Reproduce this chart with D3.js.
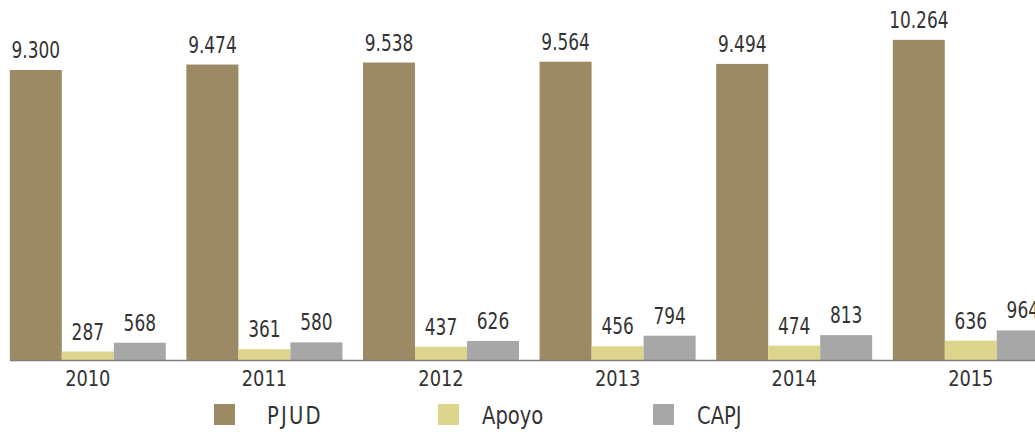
<!DOCTYPE html>
<html>
<head>
<meta charset="utf-8">
<script src="https://cdn.jsdelivr.net/npm/d3@7"></script>
<style>
  html, body { margin: 0; padding: 0; background: #fff; overflow: hidden; }
  svg { display: block; }
  text { font-family: "DejaVu Sans Condensed", "DejaVu Sans", sans-serif; fill: #333; }
</style>
</head>
<body>
<svg id="chart" width="1035" height="432"></svg>
<script>
const years = ["2010", "2011", "2012", "2013", "2014", "2015"];
const seriesNames = ["PJUD", "Apoyo", "CAPJ"];
const pjud  = [9300, 9474, 9538, 9564, 9494, 10264];
const apoyo = [287, 361, 437, 456, 474, 636];
const capj  = [568, 580, 626, 794, 813, 964];
const colors = ["#9b8a63", "#ddd58c", "#a6a7a6"];

const seriesValues = [pjud, apoyo, capj];
const fmt = v => d3.format(",")(v).replace(/,/g, ".");

const svg = d3.select("#chart");
const baseY = 360.5;

const x = d3.scaleBand()
  .domain(years)
  .range([-0.5, 1059.1])
  .paddingInner(0.1166)
  .paddingOuter(0.0583);

const x1 = d3.scaleBand()
  .domain(seriesNames)
  .range([0, x.bandwidth()])
  .padding(0);

const y = d3.scaleLinear().domain([0, 11540]).range([baseY, 0]);

const groups = svg.append("g").selectAll("g")
  .data(years)
  .join("g")
  .attr("transform", d => `translate(${x(d)},0)`);

const cells = (d, i) => seriesNames.map((s, k) => ({ s, k, v: seriesValues[k][i] }));

groups.selectAll("rect")
  .data(cells)
  .join("rect")
  .attr("x", d => x1(d.s))
  .attr("y", d => y(d.v))
  .attr("width", x1.bandwidth())
  .attr("height", d => baseY - y(d.v))
  .attr("fill", d => colors[d.k]);

groups.selectAll("text.val")
  .data(cells)
  .join("text")
  .attr("class", "val")
  .attr("transform", d => `translate(${x1(d.s) + x1.bandwidth() / 2},${y(d.v) - 12}) scale(0.82,1)`)
  .attr("text-anchor", "middle")
  .style("font-size", "23px")
  .text(d => fmt(d.v));

// axis
const axis = svg.append("g")
  .attr("transform", `translate(0,${baseY})`)
  .call(d3.axisBottom(x).tickSize(0).tickPadding(10));
axis.select(".domain").attr("stroke", "#7f7f7f").attr("stroke-width", 1.5)
  .attr("d", `M10,0H1035`);
axis.selectAll("text")
  .style("font-size", "22px")
  .attr("fill", "#333")
  .attr("dy", "0.71em")
  .attr("transform", "scale(0.9,1)");

// legend
const legendPos = [
  { sx: 214, tx: 267 },
  { sx: 438, tx: 482 },
  { sx: 653, tx: 697 }
];
const legend = svg.append("g");
seriesNames.forEach((s, k) => {
  legend.append("rect")
    .attr("x", legendPos[k].sx).attr("y", 404)
    .attr("width", 21).attr("height", 21)
    .attr("fill", colors[k]);
  legend.append("text")
    .attr("transform", `translate(${legendPos[k].tx},424) scale(0.87,1)`)
    .style("font-size", "25px")
    .style("letter-spacing", k === 0 ? "2.5px" : "0px")
    .text(s);
});
</script>
</body>
</html>
